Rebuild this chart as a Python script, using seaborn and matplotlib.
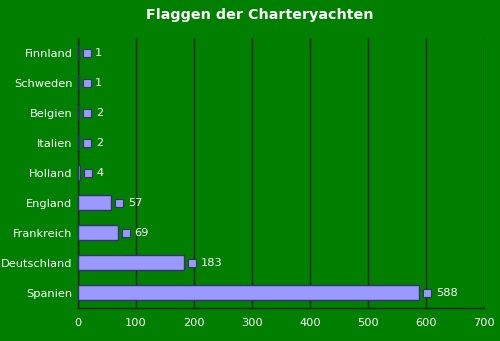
import matplotlib
matplotlib.use("Agg")
import matplotlib.pyplot as plt
import matplotlib.transforms as mtrans
import seaborn as sns
import pandas as pd
from matplotlib.ticker import FixedLocator

countries = ["Finnland", "Schweden", "Belgien", "Italien", "Holland",
             "England", "Frankreich", "Deutschland", "Spanien"]
values = [1, 1, 2, 2, 4, 57, 69, 183, 588]
x_ticks = [0, 100, 200, 300, 400, 500, 600, 700]
title = "Flaggen der Charteryachten"

BG = "#007F00"
BAR = "#9999FF"
EDGE = "#333366"
GRID = "#062a06"

sns.set_style("white")
plt.rcParams["font.family"] = ["DejaVu Sans"]

df = pd.DataFrame({"Land": countries, "Anzahl": values})

fig = plt.figure(figsize=(5.0, 3.41), dpi=100, facecolor=BG)
ax = fig.add_axes([0.156, 0.097, 0.812, 0.792])
ax.set_facecolor(BG)

sns.barplot(data=df, y="Land", x="Anzahl", orient="h", color=BAR,
            edgecolor=EDGE, linewidth=1.0, width=0.5, saturation=1, ax=ax,
            zorder=3)

ax.set_xlim(0, 700)
ax.set_ylim(len(countries) - 0.5, -0.5)
ax.set_xticks(x_ticks)
ax.set_xticklabels([str(t) for t in x_ticks])
ax.xaxis.grid(True, color=GRID, linewidth=1.0, zorder=0)
ax.set_axisbelow(True)
ax.set_xlabel("")
ax.set_ylabel("")

for s in ["top", "right"]:
    ax.spines[s].set_visible(False)
for s in ["left", "bottom"]:
    ax.spines[s].set_color(GRID)
    ax.spines[s].set_linewidth(1.0)

ax.tick_params(axis="x", colors=GRID, labelcolor="white", labelsize=8.2,
               length=4, width=1, pad=3)
ax.tick_params(axis="y", which="major", length=0, labelcolor="white",
               labelsize=8.2, pad=4)
ax.yaxis.set_minor_locator(FixedLocator([i + 0.5 for i in range(-1, len(countries))]))
ax.tick_params(axis="y", which="minor", length=3, width=1, color=GRID)

offset = mtrans.ScaledTranslation(8 / 100, 0, fig.dpi_scale_trans)
for i, v in enumerate(values):
    ax.plot([v], [i], marker="s", markersize=5.2, markerfacecolor=BAR,
            markeredgecolor=EDGE, markeredgewidth=0.8, linestyle="none",
            transform=ax.transData + offset, clip_on=False, zorder=4)
    ax.annotate(str(v), xy=(v, i), xytext=(12, 0), textcoords="offset points",
                va="center", ha="left", color="white", fontsize=8.2)

fig.text(0.52, 0.955, title, ha="center", va="center", color="white",
         fontsize=10.3, fontweight="bold")

fig.savefig("out.png", dpi=100, facecolor=BG)
